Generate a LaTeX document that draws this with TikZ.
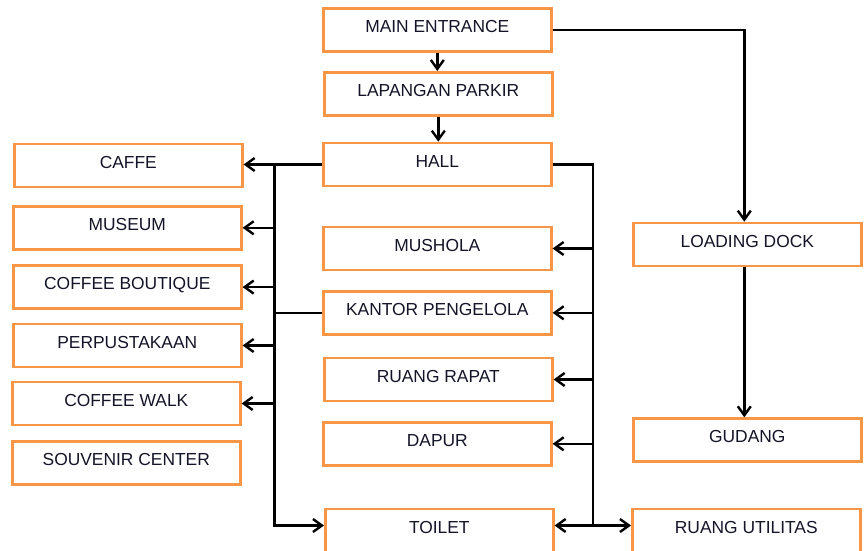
\documentclass[tikz,border=0pt]{standalone}
\usepackage{fontspec}
\setmainfont{Liberation Sans}
\usetikzlibrary{arrows.meta}
\definecolor{boxorange}{RGB}{247,150,70}
\definecolor{inkdark}{RGB}{20,20,40}
\begin{document}
\begin{tikzpicture}[x=1pt,y=-1pt,
  room/.style={draw=boxorange, line width=2.6pt, rectangle, anchor=north west,
    minimum width=228pt, inner xsep=0pt, inner ysep=0pt, text=inkdark,
    text height=24pt, text depth=19pt, font=\fontsize{17.4}{20}\selectfont},
  link/.style={line width=2.4pt, draw=black},
  flow/.style={link, -{Straight Barb[length=9pt,width=13pt]}}]
\useasboundingbox (0,0) rectangle (864,551);

% central column
\node[room] (me)      at (322,7)     {MAIN ENTRANCE};
\node[room] (lp)      at (323,71)    {LAPANGAN PARKIR};
\node[room] (hall)    at (322,141.7) {HALL};
\node[room] (mushola) at (322,225.7) {MUSHOLA};
\node[room] (kantor)  at (322,290)   {KANTOR PENGELOLA};
\node[room] (rapat)   at (323,356.7) {RUANG RAPAT};
\node[room] (dapur)   at (322,421)   {DAPUR};
\node[room] (toilet)  at (324,507.7) {TOILET};

% left column
\node[room] (caffe)    at (13,142.7) {CAFFE};
\node[room] (museum)   at (12,205)   {MUSEUM};
\node[room] (boutique) at (12,264.3) {COFFEE BOUTIQUE};
\node[room] (perpus)   at (12,322.7) {PERPUSTAKAAN};
\node[room] (cwalk)    at (11,380.7) {COFFEE WALK};
\node[room] (souvenir) at (11,440)   {SOUVENIR CENTER};

% service column
\node[room] (loading) at (632,221.7) {LOADING DOCK};
\node[room] (gudang)  at (632,417.3) {GUDANG};
\node[room] (util)    at (631,507.7) {RUANG UTILITAS};

% helper points
\coordinate (lbx) at (274.3,0);
\coordinate (rbx) at (592.7,0);
\coordinate (tl) at ([yshift=5pt]toilet.west);
\coordinate (tr) at ([yshift=5pt]toilet.east);
\coordinate (ld) at ([xshift=-3pt]loading.north);

% entrance sequence
\draw[flow] (me.south) -- (me.south |- lp.north);
\draw[flow] (lp.south) -- (lp.south |- hall.north);
\draw[flow] (me.east) -| (ld);
\draw[flow] (ld |- loading.south) -- (ld |- gudang.north);

% left distribution
\draw[flow] (hall.west) -- (hall.west -| caffe.east);
\draw[flow] (lbx |- hall.west) |- (tl);
\foreach \n in {museum,boutique,perpus,cwalk}
  \draw[flow] (lbx |- \n.east) -- (\n.east);
\draw[link] (kantor.west) -- (lbx |- kantor.west);

% right distribution
\draw[link] (hall.east) -| (rbx |- tr);
\foreach \n in {mushola,kantor,rapat,dapur}
  \draw[flow] (rbx |- \n.east) -- (\n.east);
\draw[flow] (rbx |- tr) -- (tr);
\draw[flow] (rbx |- tr) -- (tr -| util.west);
\end{tikzpicture}
\end{document}
